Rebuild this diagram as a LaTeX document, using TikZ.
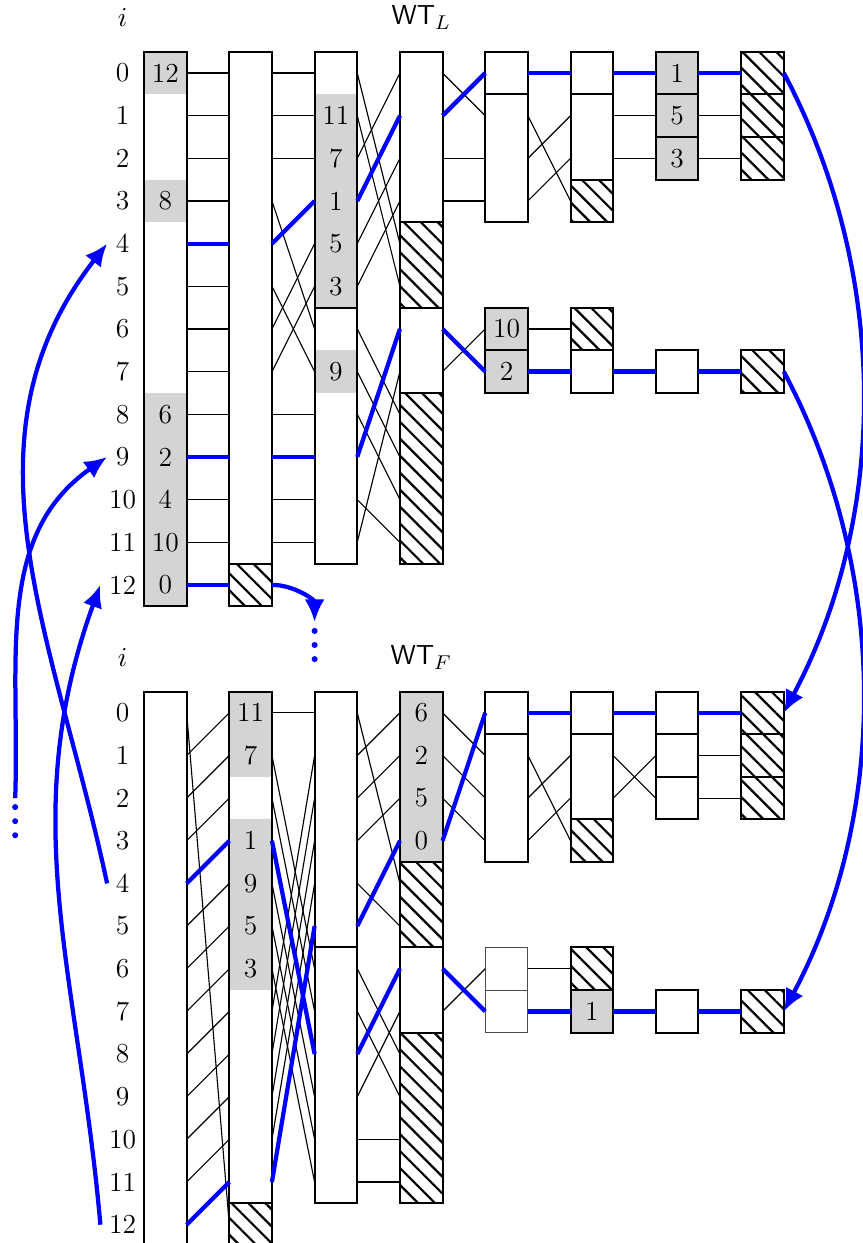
\documentclass[tikz,border=0pt]{standalone}
\usepackage{amsmath}
\usepackage{xcolor}
\usepackage{tikz}
\usetikzlibrary{arrows.meta, patterns.meta}

\begin{document}
\begin{tikzpicture}[x=0.6cm, y=0.6cm, font=\fontsize{11}{13}\selectfont,
    box/.style={line width=0.8pt},
    thinbox/.style={line width=0.4pt, draw=black!70},
    hatch/.style={line width=0.8pt, pattern={Lines[angle=-45, distance=4.8pt, line width=0.9pt]}},
    cellfill/.style={fill=black!17},
    link/.style={line width=0.45pt},
    hot/.style={blue, line width=1.7pt},
    hotarrow/.style={hot, -{Latex[length=9pt, width=8pt]}}]
  \useasboundingbox (-3.376,1.712) rectangle (16.835,-27.43);

  % edge points of every cell: (T<col>-<row>-w) and (T<col>-<row>-e), B for the lower tree
  \foreach \s/\yo in {T/0, B/-15} {
    \foreach \k in {0,...,7} {
      \foreach \r in {0,...,12} {
        \coordinate (\s\k-\r-w) at (2*\k, \yo-\r);
        \coordinate (\s\k-\r-e) at (2*\k+1, \yo-\r);
      }
    }
  }

  % headers and row numbers
  \node (Ti) at (-0.5,1.3) {$i$};
  \node (Twt) at (6.5,1.3) {\textsf{WT}$_L$};
  \node (Bi) at (-0.5,-13.7) {$i$};
  \node (Bwt) at (6.5,-13.7) {\textsf{WT}$_F$};
  \foreach \r in {0,...,12} {
    \node (Ti\r) at (-0.5,-\r) {\r};
    \node (Bi\r) at (-0.5,-15-\r) {\r};
  }

  % grey cells with their values
  \foreach \s/\k/\r/\v in {T/0/0/12, T/0/3/8, T/0/8/6, T/0/9/2, T/0/10/4, T/0/11/10, T/0/12/0,
      T/2/1/11, T/2/2/7, T/2/3/1, T/2/4/5, T/2/5/3, T/2/7/9, T/4/6/10, T/4/7/2,
      T/6/0/1, T/6/1/5, T/6/2/3,
      B/1/0/11, B/1/1/7, B/1/3/1, B/1/4/9, B/1/5/5, B/1/6/3,
      B/3/0/6, B/3/1/2, B/3/2/5, B/3/3/0, B/5/7/1} {
    \fill[cellfill] ([yshift=3mm]\s\k-\r-w) rectangle ([yshift=-3mm]\s\k-\r-e);
    \node (\s\k-\r-v) at ([xshift=3mm]\s\k-\r-w) {\v};
  }

  % dropped cells
  \foreach \s/\k/\p/\q in {T/1/12/12, T/3/4/5, T/3/8/11, T/5/3/3, T/5/6/6, T/7/0/0, T/7/1/1, T/7/2/2, T/7/7/7,
      B/1/12/12, B/3/4/5, B/3/8/11, B/5/3/3, B/5/6/6, B/7/0/0, B/7/1/1, B/7/2/2, B/7/7/7}
    \draw[hatch] ([yshift=3mm]\s\k-\p-w) rectangle ([yshift=-3mm]\s\k-\q-e);

  % tree nodes
  \foreach \s/\k/\p/\q in {T/0/0/12, T/1/0/11, T/2/0/5, T/2/6/11, T/3/0/3, T/3/6/7,
      T/4/0/0, T/4/1/3, T/4/6/6, T/4/7/7, T/5/0/0, T/5/1/2, T/5/7/7,
      T/6/0/0, T/6/1/1, T/6/2/2, T/6/7/7,
      B/0/0/12, B/1/0/11, B/2/0/5, B/2/6/11, B/3/0/3, B/3/6/7,
      B/4/0/0, B/4/1/3, B/5/0/0, B/5/1/2, B/5/7/7,
      B/6/0/0, B/6/1/1, B/6/2/2, B/6/7/7}
    \draw[box] ([yshift=3mm]\s\k-\p-w) rectangle ([yshift=-3mm]\s\k-\q-e);
  \foreach \r in {6,7}
    \draw[thinbox] ([yshift=3mm]B4-\r-w) rectangle ([yshift=-3mm]B4-\r-e);

  % where each position goes on the next level
  \foreach \s/\k/\p/\q in {T/0/0/0, T/0/1/1, T/0/2/2, T/0/3/3, T/0/5/5, T/0/6/6, T/0/7/7, T/0/8/8, T/0/10/10, T/0/11/11,
      T/1/0/0, T/1/1/1, T/1/2/2, T/1/3/6, T/1/5/7, T/1/6/4, T/1/7/5, T/1/8/8, T/1/10/10, T/1/11/11,
      T/2/0/4, T/2/1/5, T/2/2/0, T/2/4/2, T/2/5/3, T/2/6/8, T/2/7/9, T/2/8/10, T/2/10/11, T/2/11/7,
      T/3/0/1, T/3/2/2, T/3/3/3, T/3/7/6, T/4/1/3, T/4/2/1, T/4/3/2, T/4/6/6,
      T/5/1/1, T/5/2/2, T/6/1/1, T/6/2/2,
      B/0/0/12, B/0/1/0, B/0/2/1, B/0/3/2, B/0/5/4, B/0/6/5, B/0/7/6, B/0/8/7, B/0/9/8, B/0/10/9, B/0/11/10,
      B/1/0/0, B/1/1/6, B/1/2/7, B/1/4/9, B/1/5/10, B/1/6/11, B/1/7/1, B/1/8/2, B/1/9/3, B/1/10/4,
      B/2/0/4, B/2/1/0, B/2/2/1, B/2/3/2, B/2/4/5, B/2/6/8, B/2/7/9, B/2/9/7, B/2/10/10, B/2/11/11,
      B/3/0/1, B/3/1/2, B/3/2/3, B/3/7/6, B/4/1/3, B/4/2/1, B/4/3/2, B/4/6/6,
      B/5/1/2, B/5/2/1, B/6/1/1, B/6/2/2} {
    \pgfmathtruncatemacro\n{\k+1}
    \draw[link] (\s\k-\p-e) -- (\s\n-\q-w);
  }

  % traced paths
  \foreach \s/\k/\p/\q in {T/0/4/4, T/1/4/3, T/2/3/1, T/3/1/0, T/4/0/0, T/5/0/0, T/6/0/0,
      T/0/9/9, T/1/9/9, T/2/9/6, T/3/6/7, T/4/7/7, T/5/7/7, T/6/7/7, T/0/12/12,
      B/0/4/3, B/1/3/8, B/2/8/6, B/3/6/7, B/4/7/7, B/5/7/7, B/6/7/7,
      B/0/12/11, B/1/11/5, B/2/5/3, B/3/3/0, B/4/0/0, B/5/0/0, B/6/0/0} {
    \pgfmathtruncatemacro\n{\k+1}
    \draw[hot] (\s\k-\p-e) -- (\s\n-\q-w);
  }

  % cut-off levels, shown as three dots
  \coordinate (Tdots) at (4,-12.87);
  \coordinate (Ldots) at (-3.02,-17.0);
  \foreach \c in {Tdots, Ldots}
    \foreach \d in {1,2,3}
      \fill[blue] (\c) ++(0,0.12-0.33*\d) circle (1.2pt);

  % jumps between the trees
  \draw[hotarrow] (T1-12-e) to[out=0, in=90] (Tdots);
  \draw[hotarrow] (T7-0-e) to[out=-62, in=62, looseness=0.9] (B7-0-e);
  \draw[hotarrow] (T7-7-e) to[out=-62, in=62, looseness=0.9] (B7-7-e);
  \draw[hotarrow] (Bi4.west) to[out=102, in=232] (Ti4.west);
  \draw[hotarrow] (Ldots) to[out=88, in=215] (Ti9.west);
  \draw[hotarrow] (Bi12.west) to[out=95, in=250] (Ti12.west);
\end{tikzpicture}
\end{document}
